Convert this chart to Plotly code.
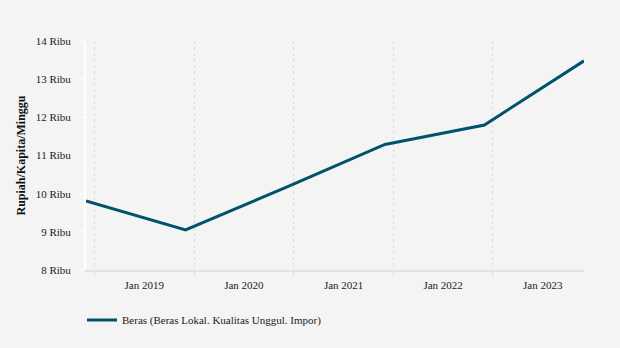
import plotly.graph_objects as go

dates = ["2018-12-01", "2019-12-01", "2020-12-01", "2021-12-01", "2022-12-01", "2023-12-01"]
beras = [9810, 9050, 10160, 11290, 11800, 13480]
series_name = "Beras (Beras Lokal. Kualitas Unggul. Impor)"
y_tickvals = [8000, 9000, 10000, 11000, 12000, 13000, 14000]
y_ticktext = ["8 Ribu", "9 Ribu", "10 Ribu", "11 Ribu", "12 Ribu", "13 Ribu", "14 Ribu"]

FONT = "Liberation Serif"

fig = go.Figure()
fig.add_trace(go.Scatter(
    x=dates, y=beras, mode="lines", name=series_name,
    line=dict(color="#01536d", width=3),
))

fig.update_layout(
    width=620, height=348,
    paper_bgcolor="#f4f4f4", plot_bgcolor="#f4f4f4",
    margin=dict(l=86, r=36, t=41, b=78),
    font=dict(family=FONT, size=11, color="#333333"),
    showlegend=True,
    legend=dict(orientation="h", x=-0.008, xanchor="left", y=-0.218, yanchor="middle",
                font=dict(family=FONT, size=11, color="#222222"),
                bgcolor="rgba(0,0,0,0)"),
    xaxis=dict(
        type="date", range=[dates[0], dates[-1]],
        tick0="2019-01-01", dtick="M12", tickformat="Jan %Y", ticklabelmode="period",
        showgrid=True, gridcolor="#dcdcdc", griddash="3px,3px", gridwidth=1,
        ticks="outside", ticklen=4, tickcolor="#dcdcdc",
        showline=True, linecolor="#e2e2e2", linewidth=2,
        tickfont=dict(family=FONT, size=11, color="#222222"),
        zeroline=False,
    ),
    yaxis=dict(
        range=[8000, 14000], tickvals=y_tickvals, ticktext=y_ticktext,
        showgrid=False, zeroline=False,
        showline=True, linecolor="#ffffff", linewidth=2,
        ticks="outside", ticklen=6, tickcolor="#ffffff", ticklabelstandoff=5,
        tickfont=dict(family=FONT, size=11, color="#222222"),
        title=dict(text="<b>Rupiah/Kapita/Minggu</b>", font=dict(family=FONT, size=12, color="#111111"), standoff=7),
    ),
)

fig.write_html("out.html")
